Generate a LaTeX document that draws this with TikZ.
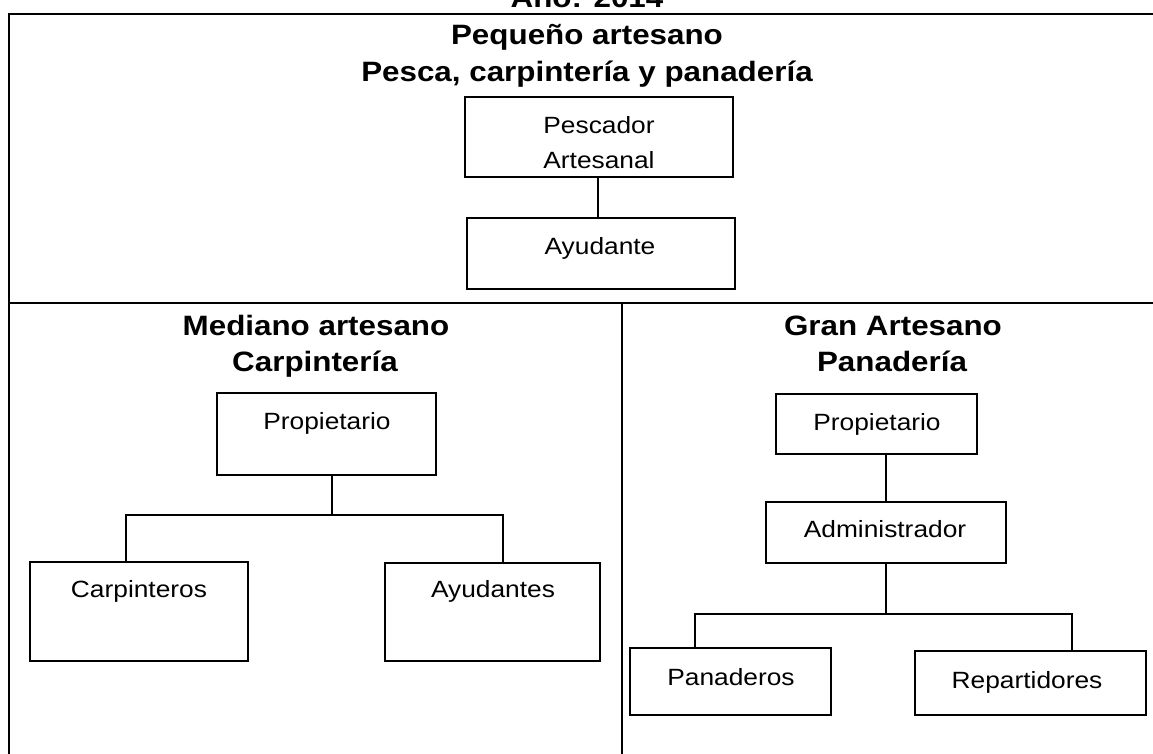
\documentclass[tikz,border=0pt]{standalone}
\usepackage{fontspec}
\setmainfont{Liberation Sans}[FakeStretch=1.12]
\begin{document}
\begin{tikzpicture}[x=1pt,y=-1pt,
  box/.style={draw, line width=1.6pt, inner sep=0pt},
  ttl/.style={anchor=base, inner sep=0pt, font=\fontsize{28}{34}\selectfont\bfseries},
  txt/.style={anchor=base, inner sep=0pt, font=\fontsize{23.5}{28}\selectfont},
  frame/.style={line width=2pt},
  link/.style={line width=1.6pt}]
\useasboundingbox (0,0) rectangle (1153,753);
% frame
\coordinate (ftl) at (8.5,14);
\coordinate (ftr) at (1160,14);
\coordinate (fbl) at (8.5,760);
\coordinate (dl) at (8.5,303);
\coordinate (dr) at (1160,303);
\coordinate (vt) at (622,303);
\coordinate (vb) at (622,760);
\draw[frame] (ftr) -- (ftl) -- (fbl);
\draw[frame] (dl) -- (dr);
\draw[frame] (vt) -- (vb);
% titles
\node[ttl] (anio) at (587,7) {Año: 2014};
\node[ttl] (t1a) at (587,44) {Pequeño artesano};
\node[ttl] (t1b) at (587,81) {Pesca, carpintería y panadería};
\node[ttl] (t2a) at (316,335) {Mediano artesano};
\node[ttl] (t2b) at (315,371) {Carpintería};
\node[ttl] (t3a) at (893,335) {Gran Artesano};
\node[ttl] (t3b) at (892,371) {Panadería};
% boxes top
\node[box, minimum width=268pt, minimum height=80pt] (pesc) at (599,137) {};
\node[box, minimum width=268pt, minimum height=71pt] (ayu) at (601,253.5) {};
\node[txt] (pescA) at (599,133) {Pescador};
\node[txt] (pescB) at (599,168) {Artesanal};
\node[txt] (ayuT) at (600,254) {Ayudante};
\draw[link] (pesc.south -| 598,0) -- (ayu.north -| 598,0);
% left panel
\node[box, minimum width=219pt, minimum height=82pt] (propL) at (326.5,434) {};
\node[box, minimum width=218pt, minimum height=99pt] (carp) at (139,611.5) {};
\node[box, minimum width=215pt, minimum height=98pt] (ayuL) at (492.5,612) {};
\node[txt] (propLT) at (327,429) {Propietario};
\node[txt] (carpT) at (139,597) {Carpinteros};
\node[txt] (ayuLT) at (493,597) {Ayudantes};
\coordinate (jL) at (332,515);
\coordinate (cL) at (126,515);
\coordinate (cR) at (503,515);
\draw[link] (propL.south -| jL) -- (jL);
\draw[link] (carp.north -| cL) -- (cL) -- (cR) -- (ayuL.north -| cR);
% right panel
\node[box, minimum width=201pt, minimum height=60pt] (propR) at (876.5,424) {};
\node[box, minimum width=240pt, minimum height=61pt] (admin) at (886,532.5) {};
\node[box, minimum width=201pt, minimum height=67pt] (pan) at (730.5,681.5) {};
\node[box, minimum width=231pt, minimum height=64pt] (rep) at (1030.5,683) {};
\node[txt] (propRT) at (877,430) {Propietario};
\node[txt] (adminT) at (885,537) {Administrador};
\node[txt] (panT) at (731,685) {Panaderos};
\node[txt] (repT) at (1027,688) {Repartidores};
\coordinate (jR) at (886,614);
\coordinate (rL) at (695,614);
\coordinate (rR) at (1072,614);
\draw[link] (propR.south -| jR) -- (admin.north -| jR);
\draw[link] (admin.south -| jR) -- (jR);
\draw[link] (pan.north -| rL) -- (rL) -- (rR) -- (rep.north -| rR);
\end{tikzpicture}
\end{document}
